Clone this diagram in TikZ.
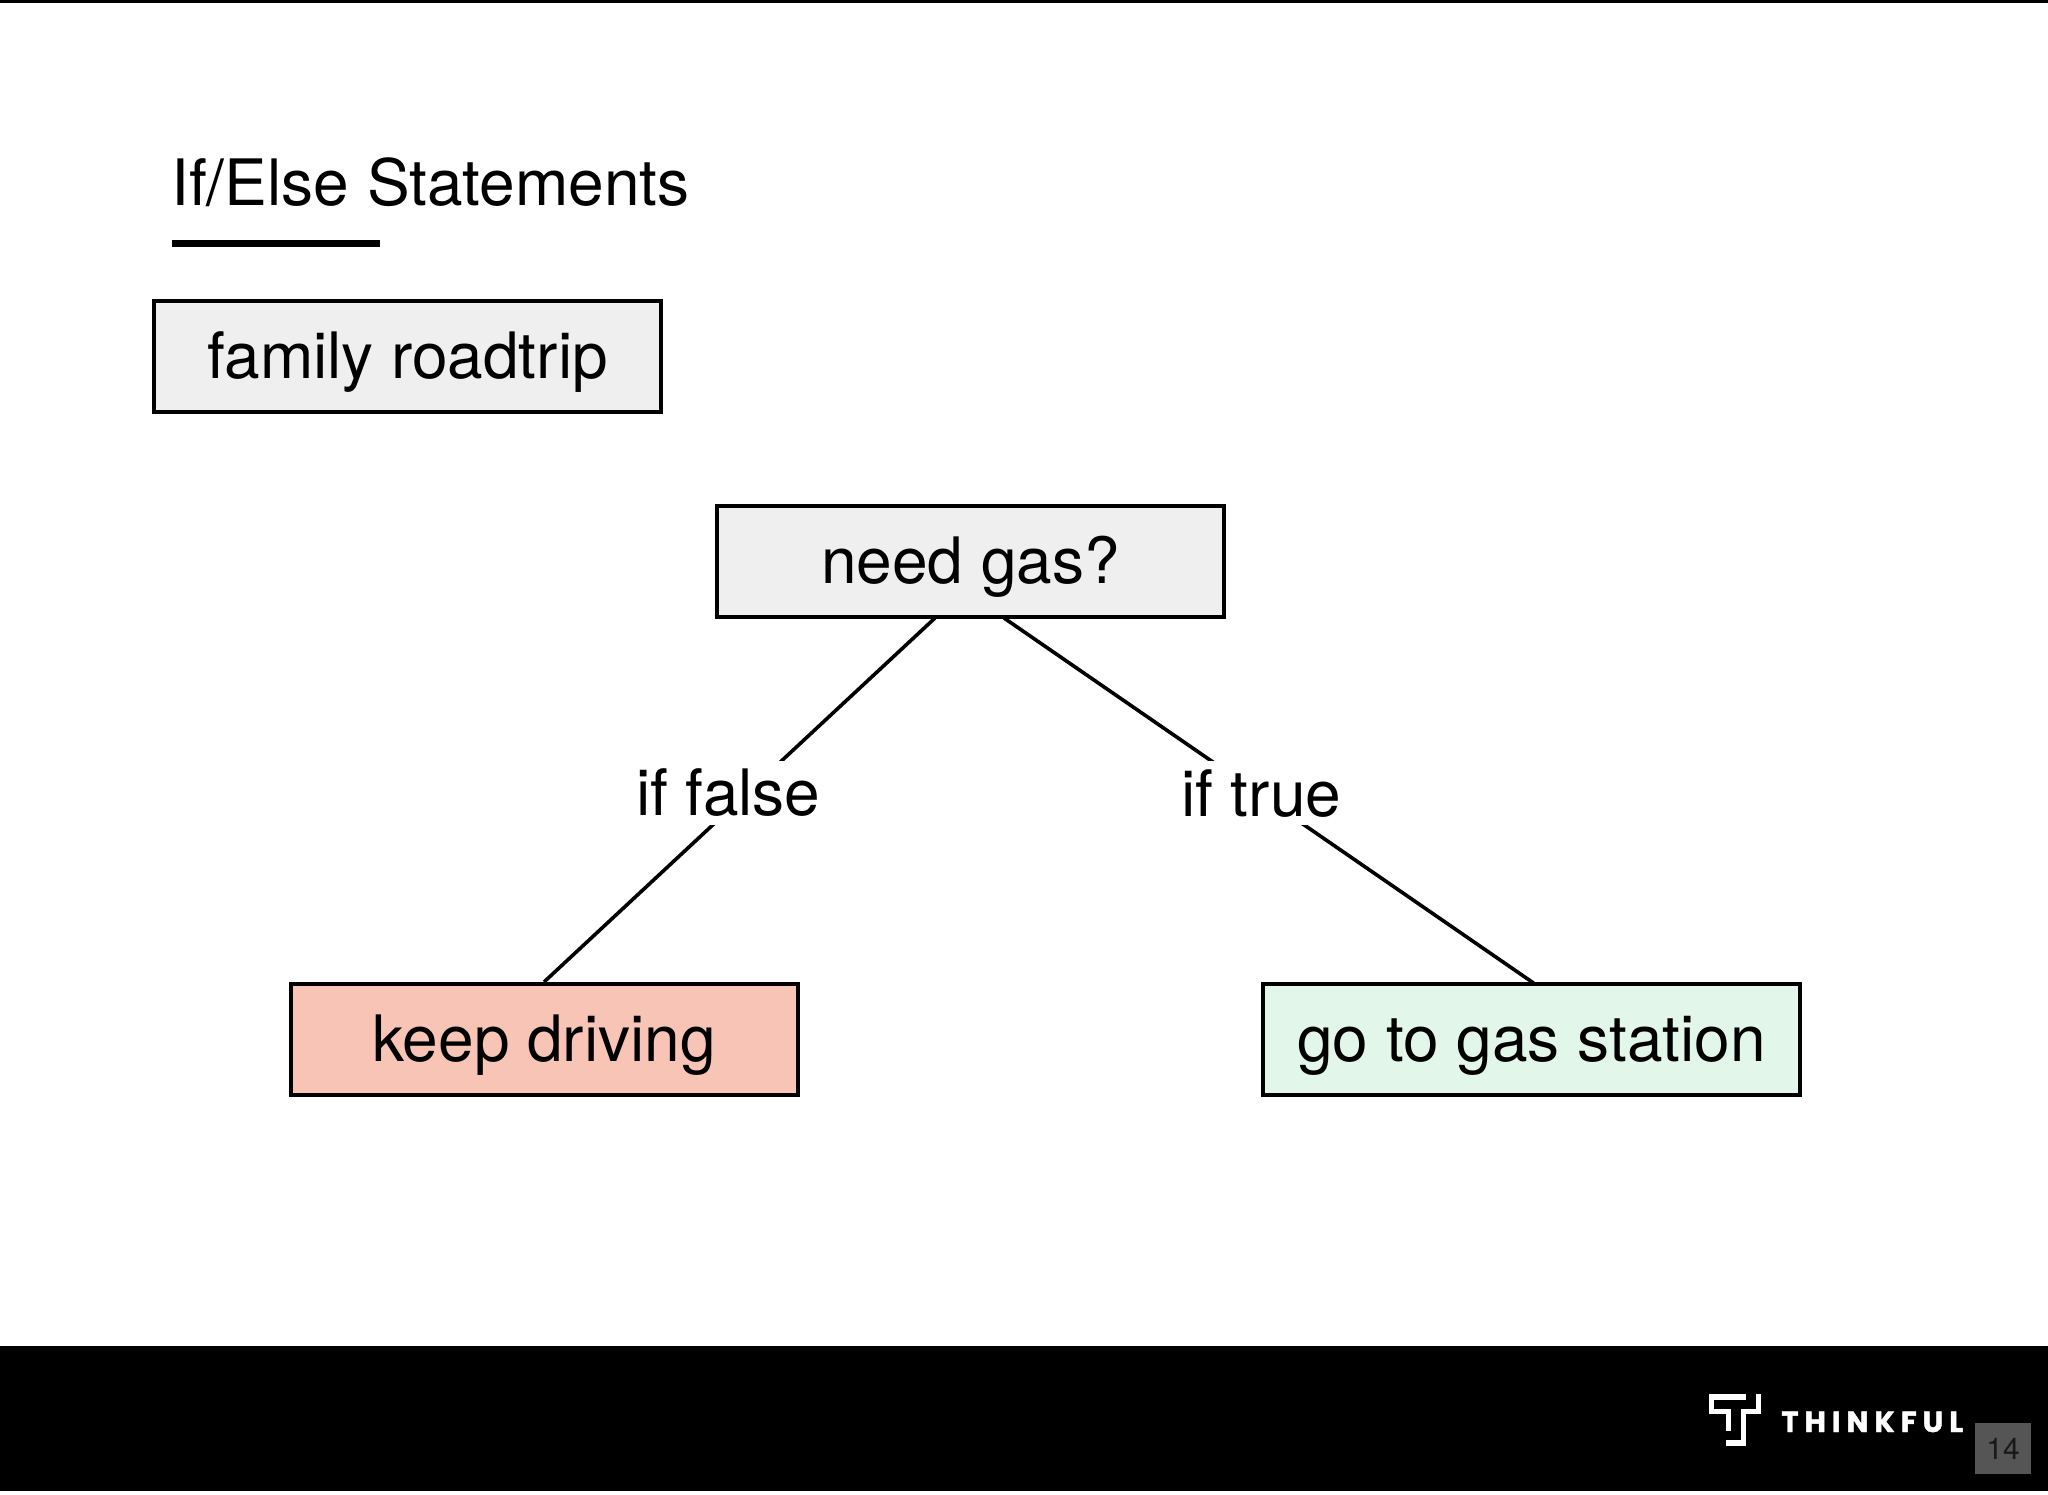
\documentclass[tikz,border=0pt]{standalone}
\usepackage{fontspec}
\setmainfont{TeX Gyre Heros}
\newfontfamily\logofont[LetterSpace=21,BoldFeatures={FakeBold=1.5}]{Poppins}
\usepackage{xcolor}
\definecolor{boxgray}{HTML}{EFEFEF}
\definecolor{boxred}{HTML}{F7C4B6}
\definecolor{boxgreen}{HTML}{E2F6E9}
\definecolor{pagegray}{HTML}{555555}
\tikzset{
	stmt/.style={draw=black,line width=2pt,fill=boxgray,minimum width=253.5pt,minimum height=55.5pt,inner sep=0pt,text height=22pt,text depth=0pt,font=\fontsize{32}{36}\selectfont},
	cond/.style={fill=white,inner xsep=3pt,inner ysep=0pt,minimum height=32pt,text height=23pt,text depth=0pt,font=\fontsize{32}{36}\selectfont},
	logoline/.style={white,line width=2.67pt}
}
\begin{document}
\begin{tikzpicture}[x=0.5pt,y=-0.5pt]
	\useasboundingbox (0,0) rectangle (2048,1494);
	% page
	\fill[black] (0,0) rectangle (2048,2.5);
	\fill[black] (0,1346) rectangle (2048,1491);
	% title
	\node[anchor=base west,inner sep=0pt,font=\fontsize{32}{36}\selectfont] (title) at (171,205.5) {If/Else Statements};
	\fill[black] (172,240) rectangle (380,247);
	% nodes
	\node[stmt] (family) at (407.5,356.5) {family roadtrip};
	\node[stmt] (need) at (970.5,561) {need gas?};
	\node[stmt,fill=boxred] (keep) at (544,1039.5) {keep driving};
	\node[stmt,fill=boxgreen,minimum width=268.5pt] (station) at (1531.5,1039.5) {go to gas station};
	\coordinate (needL) at (935,618);
	\coordinate (needR) at (1004,618);
	\coordinate (stationT) at (1533.5,983);
	%
	\path[line width=1.8pt]
	(needL) edge node[cond,pos=.48,xshift=-9.5pt]{if false} (keep.north)
	(needR) edge node[cond,pos=.48,xshift=1.5pt]{if true} (stationT);
	% footer
	\draw[logoline] (1746,1397) -- (1711.7,1397) -- (1711.7,1411.7) -- (1728.7,1411.7) -- (1728.7,1431);
	\draw[logoline] (1758.4,1394.3) -- (1758.4,1411.7) -- (1743.4,1411.7) -- (1743.4,1443) -- (1726,1443);
	\node[anchor=base west,inner sep=0pt,text=white,font=\fontsize{14.5}{16}\logofont\bfseries] (brand) at (1781,1432) {THINKFUL};
	\node[fill=pagegray,text=black!90,minimum width=28pt,minimum height=25.5pt,inner sep=0pt,font=\fontsize{15}{16}\selectfont] (page) at (2003,1448.5) {14};
\end{tikzpicture}
\end{document}
